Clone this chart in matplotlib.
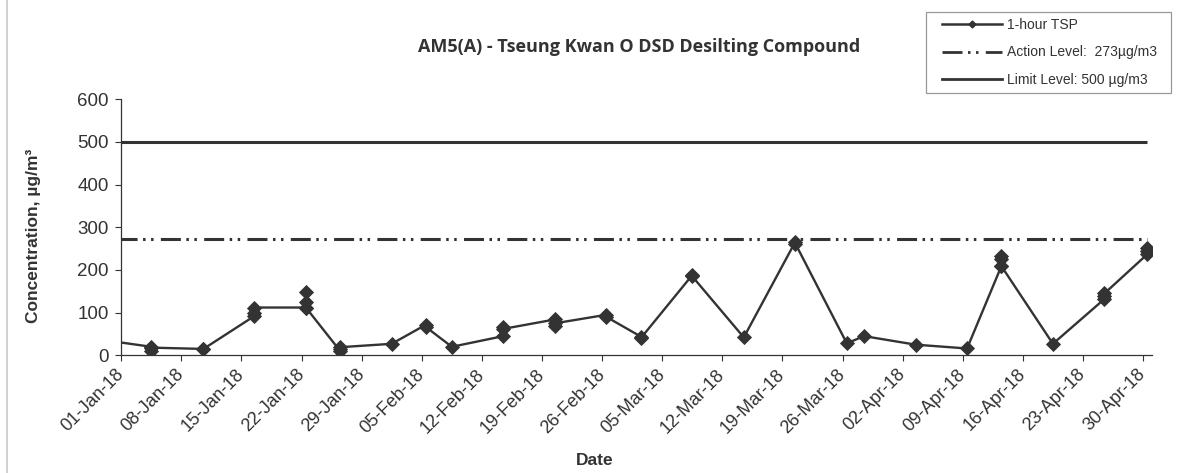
import numpy as np
import pandas as pd
import matplotlib
matplotlib.use("Agg")
import matplotlib.pyplot as plt
import matplotlib.dates as mdates
from matplotlib.lines import Line2D
from matplotlib.legend_handler import HandlerLine2D

# --- Data: 1-hour TSP readings (ug/m3), several readings per sampling day ---
sample_dates = [
    "2017-12-29", "2018-01-04", "2018-01-10", "2018-01-16", "2018-01-22",
    "2018-01-26", "2018-02-01", "2018-02-05", "2018-02-08", "2018-02-14",
    "2018-02-20", "2018-02-26", "2018-03-02", "2018-03-08", "2018-03-14",
    "2018-03-20", "2018-03-26", "2018-03-28", "2018-04-03", "2018-04-09",
    "2018-04-13", "2018-04-19", "2018-04-25", "2018-04-30",
]
tsp_readings = [
    [37], [20, 11, 18], [15, 14], [92, 100, 112], [112, 148, 126, 112],
    [10, 15, 19], [27], [72, 66], [20], [45, 67, 62],
    [84, 69, 75], [95, 90], [44, 40], [188, 185], [42],
    [266, 262], [28], [45], [25], [16],
    [209, 233, 226, 209], [27], [132, 138, 145], [237, 244, 251],
]
ACTION_LEVEL = 273
LIMIT_LEVEL = 500
y_ticks = [0, 100, 200, 300, 400, 500, 600]
x_start, x_end = "2018-01-01", "2018-05-01"

series_label = "1-hour TSP"
action_label = "Action Level:  273\u00b5g/m3"
limit_label = "Limit Level: 500 \u00b5g/m3"

INK = "#333333"
plt.rcParams["font.family"] = ["Liberation Sans", "DejaVu Sans"]
plt.rcParams["lines.scale_dashes"] = False

# points sit in the middle of their day
x_vals, y_vals = [], []
for d, vals in zip(sample_dates, tsp_readings):
    t = pd.Timestamp(d) + pd.Timedelta(hours=12)
    for v in vals:
        x_vals.append(t)
        y_vals.append(v)
x_vals = pd.to_datetime(x_vals)
level_x = [x_vals[0], x_vals[-1]]

fig = plt.figure(figsize=(11.83, 4.73), dpi=100)
ax = fig.add_axes([0.1025, 0.2488, 0.8710, 0.5413])

dash_pattern = (14.4, 3.96, 1.8, 3.96, 1.8, 5.26)
ax.plot(level_x, [LIMIT_LEVEL] * 2, color=INK, lw=2.2, solid_capstyle="butt")
ax.plot(level_x, [ACTION_LEVEL] * 2, color=INK, lw=2.2, linestyle=(18.9, dash_pattern))
ax.plot(x_vals, y_vals, color=INK, lw=1.7, marker="D", ms=6.8,
        mfc=INK, mec=INK, mew=0.6)

ax.set_xlim(pd.Timestamp(x_start), pd.Timestamp(x_end))
ax.set_ylim(0, 600)
ax.set_yticks(y_ticks)
ax.xaxis.set_major_locator(mdates.WeekdayLocator(byweekday=mdates.MO))
ax.xaxis.set_major_formatter(mdates.DateFormatter("%d-%b-%y"))

for s in ("top", "right"):
    ax.spines[s].set_visible(False)
for s in ("left", "bottom"):
    ax.spines[s].set_color(INK)
    ax.spines[s].set_linewidth(0.9)
ax.tick_params(axis="both", colors=INK, labelcolor=INK, direction="out",
               length=4, width=0.8)
ax.tick_params(axis="y", labelsize=13.5, pad=5)
ax.tick_params(axis="x", labelsize=13, pad=8)
for lbl in ax.get_xticklabels():
    lbl.set_rotation(45)
    lbl.set_ha("right")
    lbl.set_va("center")
    lbl.set_rotation_mode("anchor")

fig.text(0.540, 0.900, "AM5(A) - Tseung Kwan O DSD Desilting Compound",
         ha="center", va="center", fontsize=13, fontweight="bold",
         family=["Open Sans", "DejaVu Sans"], color=INK)
fig.text(0.028, 0.501, "Concentration, \u00b5g/m\u00b3", rotation=90,
         ha="center", va="center", fontsize=12.5, fontweight="bold", color=INK)
fig.text(0.503, 0.027, "Date", ha="center", va="center", fontsize=12.5,
         fontweight="bold", color=INK)

# legend in its own box at the top right
handles = [
    Line2D([], [], color=INK, lw=1.8, marker="D", ms=3.5, mfc=INK, mec=INK),
    Line2D([], [], color=INK, lw=2.0, linestyle=(0, dash_pattern)),
    Line2D([], [], color=INK, lw=2.0),
]
leg = fig.legend(handles, [series_label, action_label, limit_label],
                 loc="upper left", bbox_to_anchor=(0.7825, 0.799, 0.2075, 0.1756),
                 mode="expand", fontsize=10, frameon=True, fancybox=False,
                 numpoints=1, handlelength=5.05, handletextpad=0.36,
                 labelspacing=0.95, borderpad=0.45, borderaxespad=0.0,
                 handler_map={Line2D: HandlerLine2D(xpad=0.75)})
leg.get_frame().set_edgecolor("#808080")
leg.get_frame().set_linewidth(0.9)
for t in leg.get_texts():
    t.set_color(INK)

# thin grey border down the left side of the figure
fig.add_artist(Line2D([7 / 1183, 7 / 1183], [0, 1], color="#c8c8c8", lw=1.2,
                      transform=fig.transFigure))

fig.savefig("out.png", dpi=100)
